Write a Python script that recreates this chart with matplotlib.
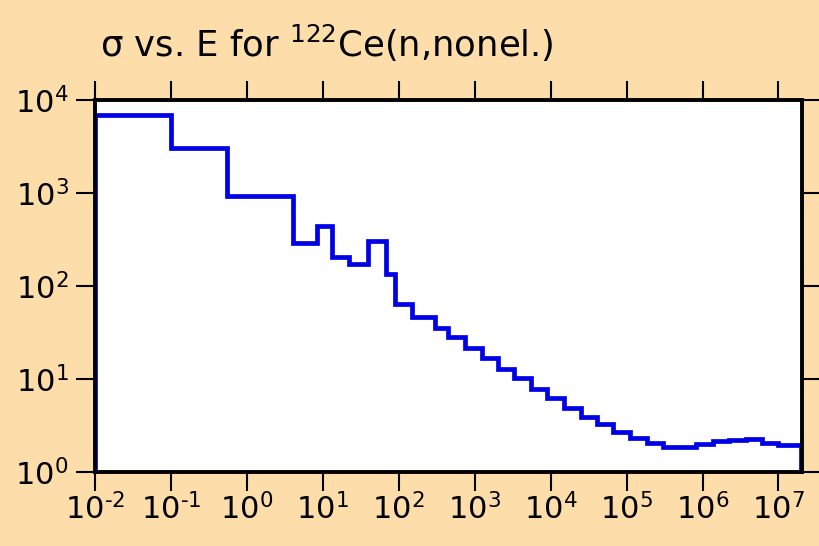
import matplotlib
matplotlib.use("Agg")
import matplotlib.pyplot as plt
from matplotlib.ticker import FuncFormatter
import numpy as np

# Data: energy bin edges (eV) and cross-section values (b)
edges = [1e-2, 0.1, 0.54, 4.0, 8.3, 13.4, 22, 39.5, 67.6, 89.7, 147.5, 302, 448,
         743, 1233, 2042, 3313, 5500, 9080, 1.5e4, 2.48e4, 4.04e4, 6.68e4, 1.11e5,
         1.84e5, 3.05e5, 4.95e5, 8.2e5, 1.36e6, 2.25e6, 3.74e6, 6.03e6, 1e7, 2e7]
sigma = [6840, 3013, 929, 287, 441, 204, 173, 307, 136, 64.3, 46.8, 35.3, 28.2,
         21.5, 17.0, 12.8, 10.3, 7.76, 6.18, 4.84, 3.87, 3.25, 2.67, 2.30, 2.06,
         1.87, 1.84, 1.99, 2.13, 2.20, 2.24, 2.06, 1.93]
xticks = [1e-2, 1e-1, 1e0, 1e1, 1e2, 1e3, 1e4, 1e5, 1e6, 1e7]
yticks = [1e0, 1e1, 1e2, 1e3, 1e4]

plt.rcParams['font.family'] = ['DejaVu Sans']
plt.rcParams['mathtext.fontset'] = 'dejavusans'
plt.rcParams['mathtext.default'] = 'regular'


def pow_label(v, _):
    e = int(round(np.log10(v)))
    if e < 0:
        return r'$10^{\text{-}%d}$' % (-e)
    return r'$10^{%d}$' % e


bg = '#FDDEAA'
fig = plt.figure(figsize=(8.2, 5.46), dpi=100, facecolor=bg)
ax = fig.add_axes([95/820, 1-472/546, (802-95)/820, (472-100)/546])
ax.set_facecolor('white')

ax.stairs(sigma, edges, baseline=1.0, color='#0000E6', linewidth=3.4, zorder=3)

ax.set_xscale('log')
ax.set_yscale('log')
ax.set_xlim(1e-2, 2.04e7)
ax.set_ylim(1, 1e4)
ax.set_xticks(xticks)
ax.set_yticks(yticks)
ax.xaxis.set_major_formatter(FuncFormatter(pow_label))
ax.yaxis.set_major_formatter(FuncFormatter(pow_label))
ax.minorticks_off()
ax.tick_params(which='major', direction='out', length=14, width=1.5, color='black',
               top=True, right=True, labelsize=22)
ax.tick_params(axis='x', pad=1)
ax.tick_params(axis='y', pad=5)
for s in ax.spines.values():
    s.set_linewidth(2.8)
    s.set_color('black')
    s.set_zorder(4)

fig.text(100/820, 1-57/546, r'σ vs. E for $^{122}$Ce(n,nonel.)', fontsize=25.5,
         ha='left', va='baseline')

fig.savefig('out.png', dpi=100, facecolor=bg)
